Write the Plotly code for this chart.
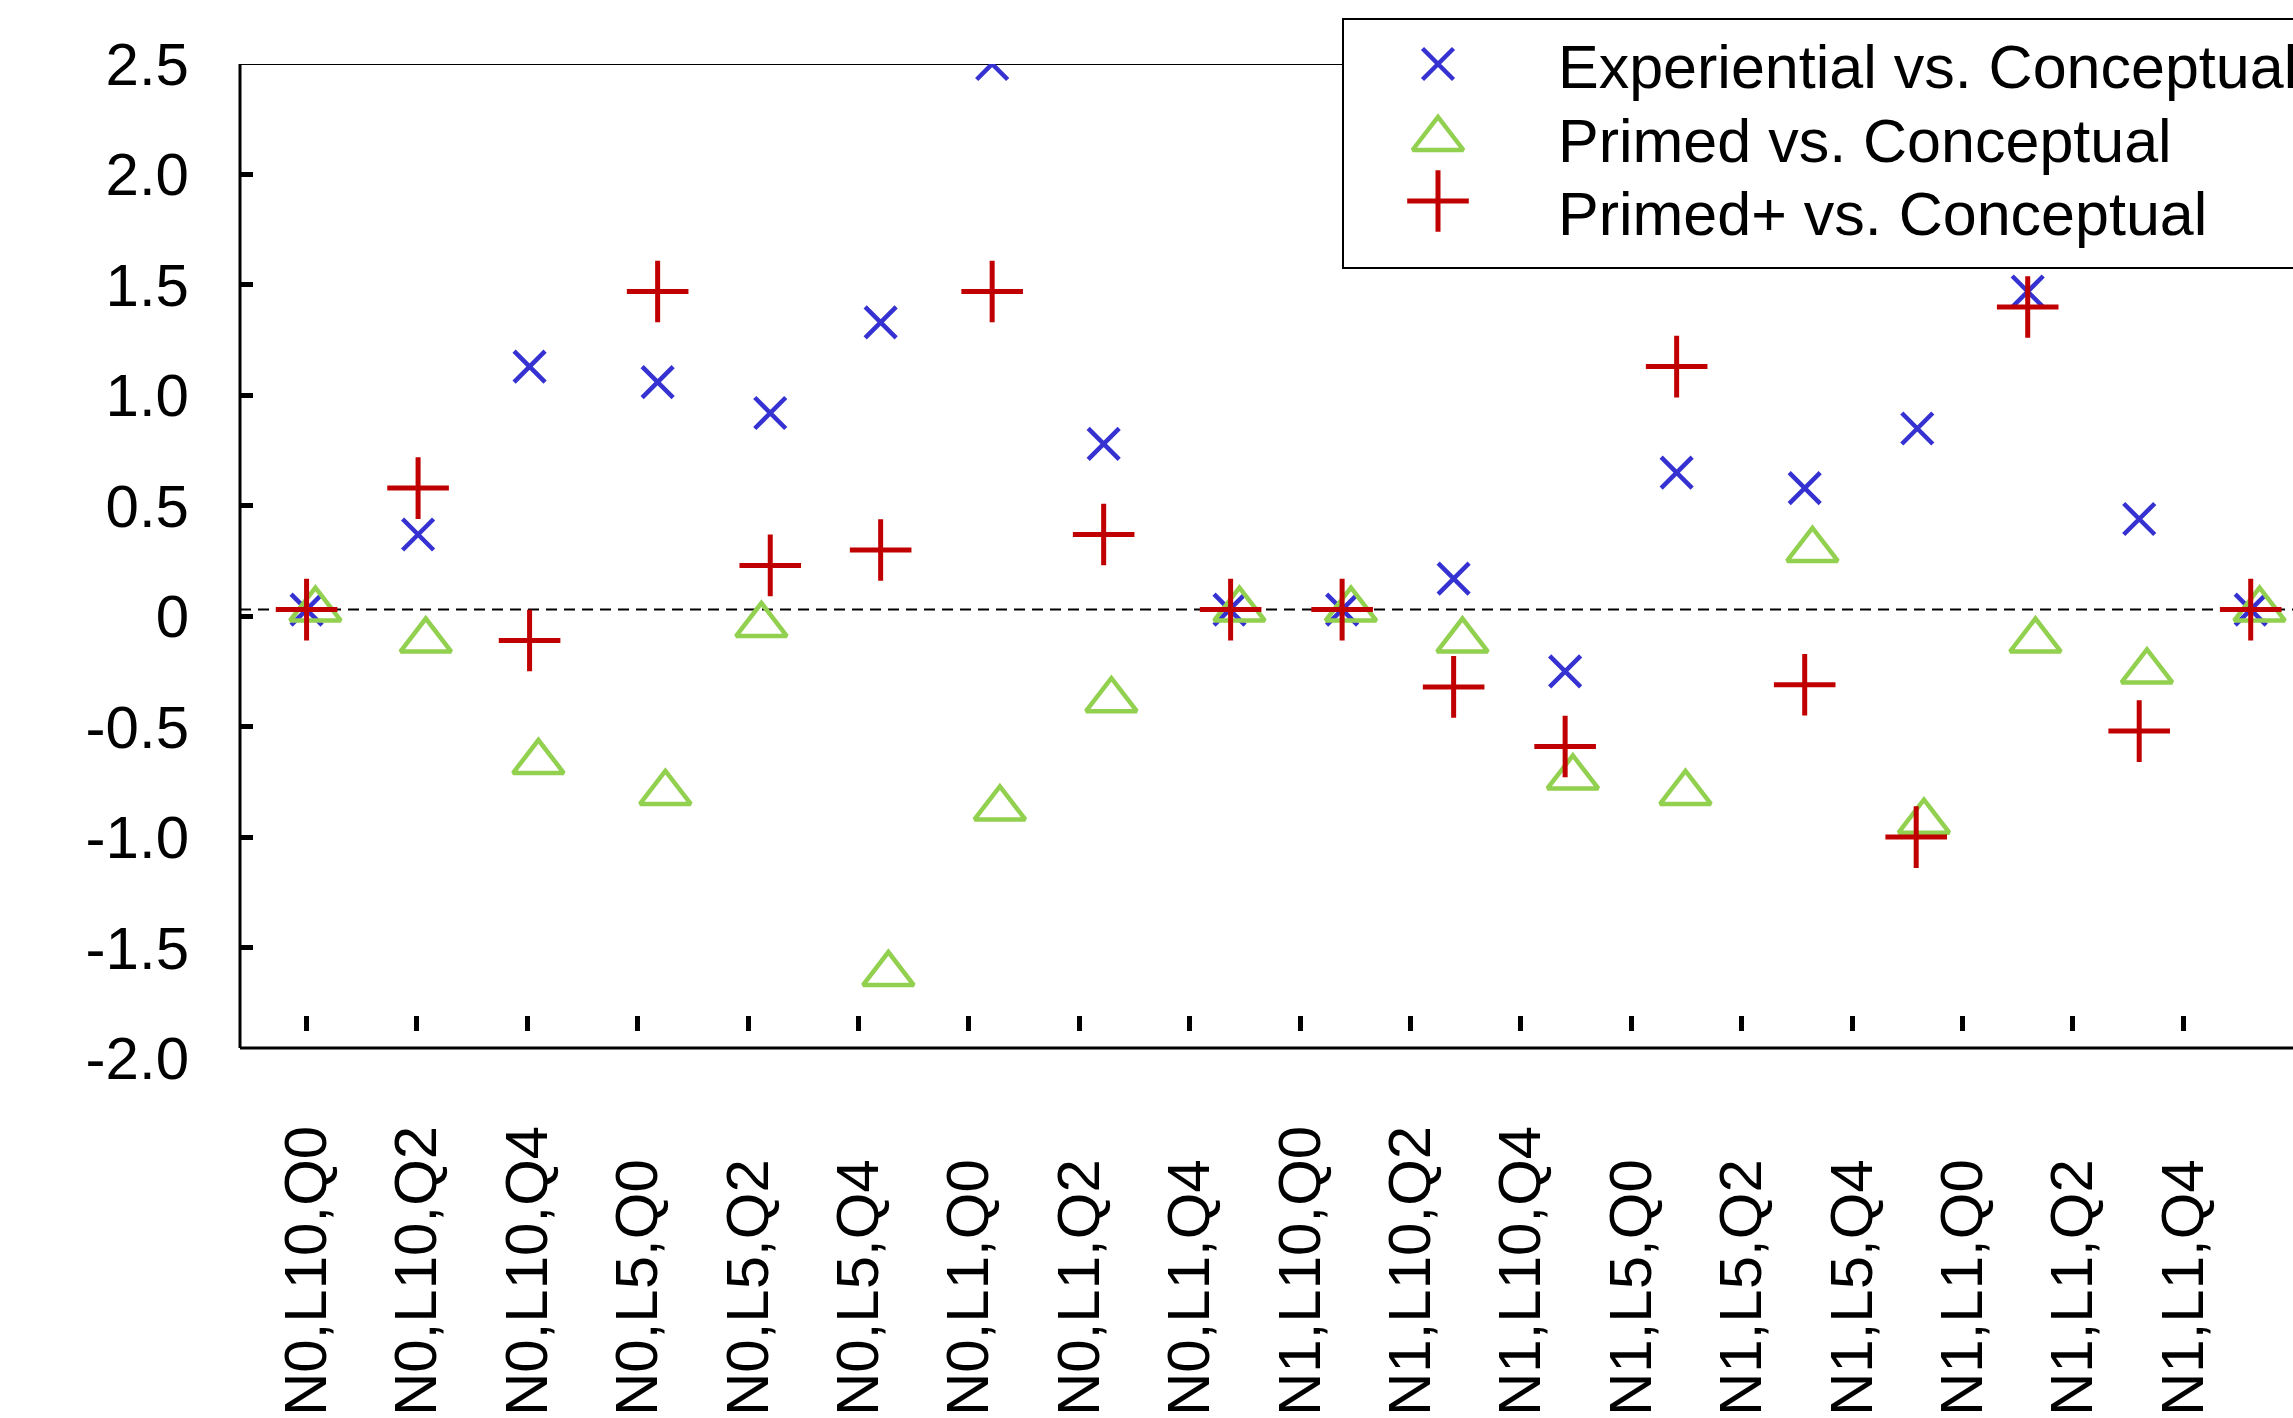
import plotly.graph_objects as go

# ---------------- data ----------------
categories = ["N0,L10,Q0", "N0,L10,Q2", "N0,L10,Q4", "N0,L5,Q0", "N0,L5,Q2", "N0,L5,Q4",
              "N0,L1,Q0", "N0,L1,Q2", "N0,L1,Q4", "N1,L10,Q0", "N1,L10,Q2", "N1,L10,Q4",
              "N1,L5,Q0", "N1,L5,Q2", "N1,L5,Q4", "N1,L1,Q0", "N1,L1,Q2", "N1,L1,Q4"]
category_pos = list(range(len(categories)))

series_names = ["Experiential vs. Conceptual", "Primed vs. Conceptual", "Primed+ vs. Conceptual"]

# x positions (in category-tick units) as drawn in the original
x_experiential = [0.00, 1.01, 2.02, 3.18, 4.20, 5.20, 6.21, 7.22, 8.36,
                  9.38, 10.39, 11.40, 12.41, 13.57, 14.59, 15.59, 16.60, 17.61]
x_primed = [0.08, 1.08, 2.10, 3.25, 4.12, 5.27, 6.28, 7.29, 8.45,
            9.46, 10.47, 11.47, 12.49, 13.64, 14.65, 15.66, 16.67, 17.69]
x_primed_plus = [0.00, 1.01, 2.02, 3.18, 4.20, 5.20, 6.21, 7.22, 8.37,
                 9.38, 10.39, 11.40, 12.41, 13.57, 14.58, 15.59, 16.60, 17.61]

y_experiential = [0.03, 0.37, 1.13, 1.06, 0.92, 1.33, 2.50, 0.78, 0.03,
                  0.03, 0.17, -0.25, 0.65, 0.58, 0.85, 1.47, 0.44, 0.03]
y_primed = [0.03, -0.11, -0.66, -0.80, -0.04, -1.62, -0.87, -0.38, 0.03,
            0.03, -0.11, -0.73, -0.80, 0.30, -0.93, -0.11, -0.25, 0.03]
y_primed_plus = [0.03, 0.58, -0.11, 1.47, 0.23, 0.30, 1.47, 0.37, 0.03,
                 0.03, -0.32, -0.59, 1.13, -0.31, -1.00, 1.40, -0.52, 0.03]

y_tickvals = [2.5, 2.0, 1.5, 1.0, 0.5, 0.0, -0.5, -1.0, -1.5, -2.0]
y_ticktext = ["2.5", "2.0", "1.5", "1.0", "0.5", "0", "-0.5", "-1.0", "-1.5", "-2.0"]

ZERO_REF = 0.03        # dashed reference line
AXIS_BOTTOM = -1.955   # where the bottom border is drawn

# ---------------- style ----------------
W, H = 2293, 1418
FONT = "Liberation Sans, Arial, Helvetica, sans-serif"
BLUE = "#3632d2"
GREEN = "#92d050"
RED = "#c00000"
colors = [BLUE, GREEN, RED]
symbols = ["x-thin-open", "triangle-up-open", "cross-thin-open"]
sizes = [31, 44, 44]
lws = [4.5, 4.5, 5]

L = 240
def px_x(p):  # pixel -> paper x
    return (p - L) / (W - L)
def px_y(p):  # pixel -> paper y
    return 1 - p / H

fig = go.Figure()

xs = [x_experiential, x_primed, x_primed_plus]
ys = [y_experiential, y_primed, y_primed_plus]
for i in range(3):
    fig.add_trace(go.Scatter(
        x=xs[i], y=ys[i], mode="markers", name=series_names[i], showlegend=False,
        marker=dict(symbol=symbols[i], size=sizes[i], color=colors[i],
                    line=dict(color=colors[i], width=lws[i])),
        xaxis="x", yaxis="y"))

# dummy trace so the label axis is created
fig.add_trace(go.Scatter(x=category_pos, y=[None] * len(category_pos), xaxis="x2", yaxis="y",
                         showlegend=False, hoverinfo="skip", mode="markers"))

# legend symbols (manual legend, to keep full-size symbols)
leg_sym_y = [64, 139, 201]
leg_txt_y = [67, 141, 214]
for i in range(3):
    fig.add_trace(go.Scatter(
        x=[px_x(1438)], y=[px_y(leg_sym_y[i])], mode="markers", showlegend=False, hoverinfo="skip",
        marker=dict(symbol=symbols[i], size=sizes[i], color=colors[i],
                    line=dict(color=colors[i], width=lws[i])),
        xaxis="x3", yaxis="y3"))

XR = [-0.603, 17.993]
fig.update_layout(
    width=W, height=H,
    paper_bgcolor="white", plot_bgcolor="rgba(0,0,0,0)",
    margin=dict(l=L, r=0, t=0, b=0, autoexpand=False),
    font=dict(family=FONT, size=60, color="black"),
    showlegend=False,
    xaxis=dict(range=XR, anchor="free", position=px_y(1031), tickvals=category_pos,
               ticks="inside", ticklen=15, tickwidth=5, tickcolor="black",
               showticklabels=False, showline=False, showgrid=False, zeroline=False),
    xaxis2=dict(range=XR, overlaying="x", side="top", anchor="free", position=0,
                tickvals=category_pos, ticktext=categories, tickangle=-90, ticks="",
                showline=False, showgrid=False, zeroline=False,
                tickfont=dict(family=FONT, size=60, color="black"), ticklabelstandoff=2),
    yaxis=dict(range=[-2.0, 2.5], domain=[px_y(1058), px_y(64)], tickvals=y_tickvals,
               ticktext=y_ticktext, ticks="inside", ticklen=13, tickwidth=5, tickcolor="black",
               showline=False, showgrid=False, zeroline=False,
               tickfont=dict(family=FONT, size=60, color="black"), ticklabelstandoff=50),
    xaxis3=dict(range=[0, 1], domain=[0, 1], anchor="y3", visible=False),
    yaxis3=dict(range=[0, 1], domain=[0, 1], anchor="x3", visible=False),
)

shapes = [
    dict(type="line", xref="paper", yref="y", x0=0, x1=1, y0=ZERO_REF, y1=ZERO_REF,
         line=dict(color="black", width=2, dash="11px,7px"), layer="below"),
    dict(type="line", xref="paper", yref="y", x0=0, x1=1, y0=2.5, y1=2.5,
         line=dict(color="black", width=2), layer="below"),
    dict(type="line", xref="paper", yref="y", x0=0, x1=1, y0=AXIS_BOTTOM, y1=AXIS_BOTTOM,
         line=dict(color="black", width=3), layer="below"),
    dict(type="line", xref="paper", yref="y", x0=0, x1=0, y0=AXIS_BOTTOM, y1=2.5,
         line=dict(color="black", width=3), layer="below"),
    dict(type="rect", xref="paper", yref="paper", x0=px_x(1343), x1=1.02,
         y0=px_y(268), y1=px_y(19), fillcolor="white",
         line=dict(color="black", width=2), layer="below"),
]
fig.update_layout(shapes=shapes)

for i in range(3):
    fig.add_annotation(x=px_x(1556), y=px_y(leg_txt_y[i]), xref="paper", yref="paper",
                       text=series_names[i], showarrow=False, xanchor="left", yanchor="middle",
                       font=dict(family=FONT, size=61, color="black"))

fig.write_html("out.html", config={"displayModeBar": False},
               post_script="document.body.style.margin='0px';")
